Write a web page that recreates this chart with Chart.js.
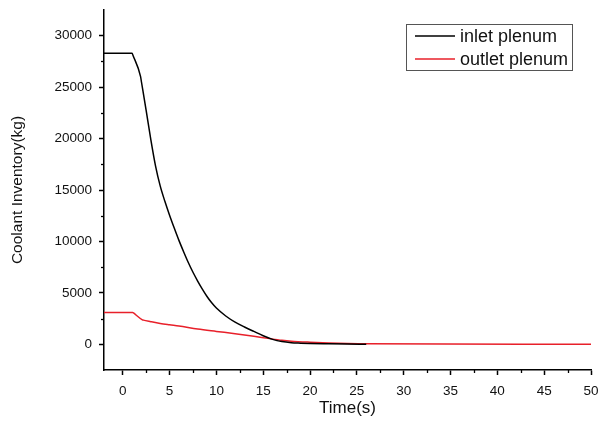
<!DOCTYPE html>
<html>
<head>
<meta charset="utf-8">
<script src="https://cdn.jsdelivr.net/npm/chart.js@4/dist/chart.umd.min.js"></script>
<style>
  html, body { margin: 0; padding: 0; background: #fff; }
  #wrap { width: 598px; height: 429px; }
</style>
</head>
<body>
<div id="wrap"><canvas id="c" width="598" height="429"></canvas></div>
<script>
// Coolant inventory in the inlet and outlet plenum during the transient
const inletTime = [-2, 1.0, 1.1, 1.9, 2.0, 2.5, 3.0, 3.5, 4.0, 4.5, 5, 5.5, 6, 6.5, 7, 7.5, 8, 8.5, 9, 9.5, 10, 11, 12, 13, 14, 15, 16, 17, 18, 19, 20, 22, 24, 26];
const inletMass = [28300, 28300, 28080, 26050, 25500, 22750, 19900, 17350, 15400, 13900, 12550, 11300, 10100, 9000, 7950, 7000, 6150, 5370, 4650, 4030, 3520, 2750, 2150, 1680, 1250, 830, 480, 260, 150, 110, 80, 50, 25, 5];

const outletTime = [-2, 1.07, 1.15, 2.1, 2.2, 3, 4, 5, 6, 8, 10, 12, 14, 15.7, 17, 18, 20, 22, 24, 26, 50];
const outletMass = [3100, 3100, 3045, 2380, 2350, 2200, 2030, 1900, 1780, 1480, 1250, 1030, 780, 550, 390, 300, 200, 130, 80, 50, 0];

const seriesNames = ['inlet plenum', 'outlet plenum'];
const xTicks = [0, 5, 10, 15, 20, 25, 30, 35, 40, 45, 50];
const yTicks = [0, 5000, 10000, 15000, 20000, 25000, 30000];

const toPoints = (xs, ys) => xs.map((x, i) => ({ x: x, y: ys[i] }));

const FONT = "'Liberation Sans', Arial, sans-serif";

// short minor ticks halfway between the labelled ones
const minorTicks = {
  id: 'minorTicks',
  afterDraw(chart) {
    const ctx = chart.ctx;
    const xs = chart.scales.x, ys = chart.scales.y;
    ctx.save();
    ctx.strokeStyle = '#000';
    ctx.lineWidth = 1.3;
    for (let i = 0; i < xTicks.length - 1; i++) {
      const v = (xTicks[i] + xTicks[i + 1]) / 2;
      const px = Math.round(xs.getPixelForValue(v)) + 0.5;
      ctx.beginPath();
      ctx.moveTo(px, xs.top);
      ctx.lineTo(px, xs.top + 3);
      ctx.stroke();
    }
    for (let i = 0; i < yTicks.length - 1; i++) {
      const v = (yTicks[i] + yTicks[i + 1]) / 2;
      const py = Math.round(ys.getPixelForValue(v)) + 0.5;
      ctx.beginPath();
      ctx.moveTo(ys.right, py);
      ctx.lineTo(ys.right - 3, py);
      ctx.stroke();
    }
    ctx.restore();
  }
};

// boxed legend in the upper right of the plot
const boxLegend = {
  id: 'boxLegend',
  afterDraw(chart) {
    const ctx = chart.ctx;
    const area = chart.chartArea;
    const bx = area.right - 185, by = area.top + 14, bw = 166, bh = 46;
    ctx.save();
    ctx.strokeStyle = '#555';
    ctx.lineWidth = 1;
    ctx.strokeRect(bx + 0.5, by + 0.5, bw, bh);
    ctx.font = '18px ' + FONT;
    ctx.textBaseline = 'middle';
    ctx.textAlign = 'left';
    chart.data.datasets.forEach((ds, i) => {
      const y = by + 12 + i * 23;
      ctx.strokeStyle = ds.borderColor;
      ctx.lineWidth = 1.5;
      ctx.beginPath();
      ctx.moveTo(bx + 9, y);
      ctx.lineTo(bx + 49, y);
      ctx.stroke();
      ctx.fillStyle = '#111';
      ctx.fillText(ds.label, bx + 54, y + 1);
    });
    ctx.restore();
  }
};

new Chart(document.getElementById('c'), {
  type: 'line',
  data: {
    datasets: [
      {
        label: seriesNames[0],
        data: toPoints(inletTime, inletMass),
        borderColor: '#000000',
        borderWidth: 1.5,
        pointRadius: 0,
        cubicInterpolationMode: 'monotone'
      },
      {
        label: seriesNames[1],
        data: toPoints(outletTime, outletMass),
        borderColor: '#e8202a',
        borderWidth: 1.5,
        pointRadius: 0,
        cubicInterpolationMode: 'monotone'
      }
    ]
  },
  options: {
    responsive: false,
    animation: false,
    devicePixelRatio: 1,
    layout: { padding: { top: 10, right: 7, left: 0, bottom: 0 } },
    plugins: {
      legend: { display: false },
      tooltip: { enabled: false }
    },
    scales: {
      x: {
        type: 'linear',
        min: -2,
        max: 50,
        afterBuildTicks: s => { s.ticks = xTicks.map(v => ({ value: v })); },
        afterFit: s => { s.height = 59; s.paddingLeft = 0; s.paddingRight = 0; },
        border: { display: true, color: '#000', width: 1.5 },
        grid: { display: true, drawOnChartArea: false, drawTicks: true, tickLength: 5, tickWidth: 1.5, tickColor: '#000' },
        ticks: { color: '#111', font: { family: FONT, size: 13.5 }, padding: 8, maxRotation: 0 },
        title: { display: true, text: 'Time(s)', color: '#111', font: { family: FONT, size: 17 }, padding: { top: 4, bottom: 10 } }
      },
      y: {
        type: 'linear',
        min: -2500,
        max: 32500,
        afterBuildTicks: s => { s.ticks = yTicks.map(v => ({ value: v })); },
        afterFit: s => { s.width = 104; s.paddingTop = 0; s.paddingBottom = 0; },
        border: { display: true, color: '#000', width: 1.5 },
        grid: { display: true, drawOnChartArea: false, drawTicks: true, tickLength: 5, tickWidth: 1.5, tickColor: '#000' },
        ticks: { color: '#111', font: { family: FONT, size: 13.5 }, padding: 7, callback: v => String(v) },
        title: { display: true, text: 'Coolant Inventory(kg)', color: '#111', font: { family: FONT, size: 15.5 }, padding: { top: 8, bottom: 0 } }
      }
    }
  },
  plugins: [minorTicks, boxLegend]
});
</script>
</body>
</html>
